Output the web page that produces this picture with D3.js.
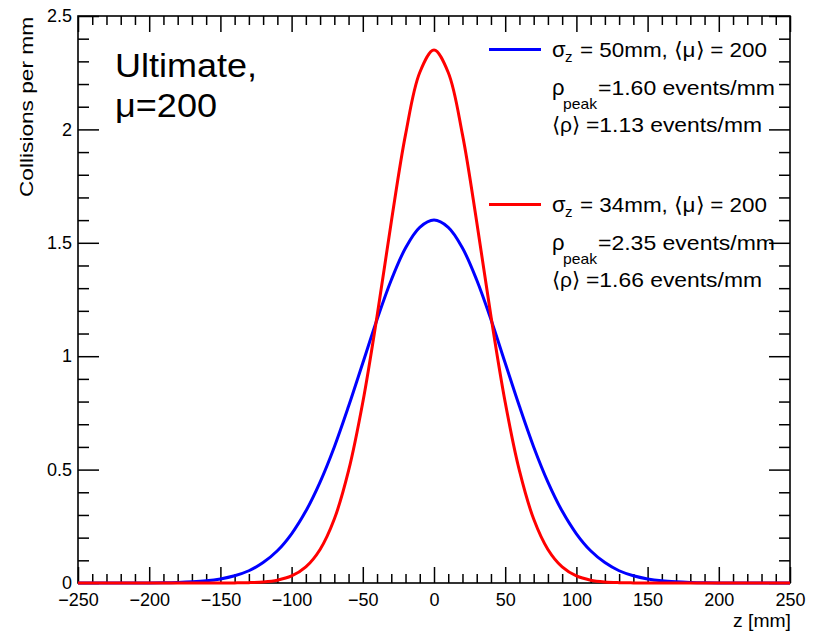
<!DOCTYPE html>
<html>
<head>
<meta charset="utf-8">
<script src="https://cdn.jsdelivr.net/npm/d3@7/dist/d3.min.js"></script>
<style>
  html, body { margin: 0; padding: 0; background: #fff; }
  svg { display: block; font-family: "Liberation Sans", Arial, Helvetica, sans-serif; }
</style>
</head>
<body>
<svg id="chart" width="817" height="634"></svg>
<script>
// ---- data ----
const zValues = [-250,-240,-230,-220,-210,-200,-190,-180,-170,-160,-150,-140,-130,-120,-110,-100,-90,-80,-70,-60,-50,-40,-30,-20,-10,0,
                 10,20,30,40,50,60,70,80,90,100,110,120,130,140,150,160,170,180,190,200,210,220,230,240,250];
const blueValues = [0,0,0,0,0,0.0005,0.001,0.0024,0.005,0.0096,0.018,0.032,0.054,0.090,0.142,0.217,0.317,0.445,0.600,0.779,0.970,1.162,1.336,1.477,1.568,1.600,
                    1.568,1.477,1.336,1.162,0.970,0.779,0.600,0.445,0.317,0.217,0.142,0.090,0.054,0.032,0.018,0.0096,0.005,0.0024,0.001,0.0005,0,0,0,0,0];
const redValues  = [0,0,0,0,0,0,0,0,0,0,0,0.0005,0.0016,0.0046,0.0125,0.031,0.071,0.148,0.282,0.495,0.797,1.176,1.592,1.977,2.251,2.350,
                    2.251,1.977,1.592,1.176,0.797,0.495,0.282,0.148,0.071,0.031,0.0125,0.0046,0.0016,0.0005,0,0,0,0,0,0,0,0,0,0,0];
const xTickLabels = [-250,-200,-150,-100,-50,0,50,100,150,200,250];
const yTickLabels = [0,0.5,1,1.5,2,2.5];
const xTitle = "z [mm]";
const yTitle = "Collisions per mm";

// ---- layout ----
const svg = d3.select("#chart");
const L = 78, R = 790, T = 16, B = 583;
const x = d3.scaleLinear().domain([-250, 250]).range([L, R]);
const y = d3.scaleLinear().domain([0, 2.5]).range([B, T]);

const xMinor = d3.range(-250, 251, 10).filter(v => v % 50 !== 0);
const yMinor = d3.range(0, 2.51, 0.1).map(v => +v.toFixed(2)).filter(v => Math.abs(v * 2 - Math.round(v * 2)) > 1e-6);

const axisStyle = g => {
  g.select(".domain").remove();
  g.selectAll(".tick line").attr("stroke", "#000").attr("stroke-width", 1.5);
  g.selectAll("text").attr("font-size", 18).attr("fill", "#000")
    .attr("font-family", "'Liberation Sans', Arial, sans-serif");
};

// bottom axis
svg.append("g").attr("transform", `translate(0,${B})`)
  .call(d3.axisBottom(x).tickValues(xTickLabels).tickSizeInner(-16).tickSizeOuter(0).tickPadding(10)
    .tickFormat(d3.format("d")))
  .call(axisStyle);
svg.append("g").attr("transform", `translate(0,${B})`)
  .call(d3.axisBottom(x).tickValues(xMinor).tickSizeInner(-9).tickSizeOuter(0).tickFormat(""))
  .call(axisStyle);
// top axis
svg.append("g").attr("transform", `translate(0,${T})`)
  .call(d3.axisTop(x).tickValues(xTickLabels).tickSizeInner(-16).tickSizeOuter(0).tickFormat(""))
  .call(axisStyle);
svg.append("g").attr("transform", `translate(0,${T})`)
  .call(d3.axisTop(x).tickValues(xMinor).tickSizeInner(-9).tickSizeOuter(0).tickFormat(""))
  .call(axisStyle);
// left axis
svg.append("g").attr("transform", `translate(${L},0)`)
  .call(d3.axisLeft(y).tickValues(yTickLabels).tickSizeInner(-21).tickSizeOuter(0).tickPadding(6)
    .tickFormat(d => String(d)))
  .call(axisStyle);
svg.append("g").attr("transform", `translate(${L},0)`)
  .call(d3.axisLeft(y).tickValues(yMinor).tickSizeInner(-11).tickSizeOuter(0).tickFormat(""))
  .call(axisStyle);
// right axis
svg.append("g").attr("transform", `translate(${R},0)`)
  .call(d3.axisRight(y).tickValues(yTickLabels).tickSizeInner(-21).tickSizeOuter(0).tickFormat(""))
  .call(axisStyle);
svg.append("g").attr("transform", `translate(${R},0)`)
  .call(d3.axisRight(y).tickValues(yMinor).tickSizeInner(-11).tickSizeOuter(0).tickFormat(""))
  .call(axisStyle);

// frame
svg.append("rect").attr("x", L).attr("y", T).attr("width", R - L).attr("height", B - T)
  .attr("fill", "none").attr("stroke", "#000").attr("stroke-width", 1.6);

// curves
const line = vals => d3.line()
  .x((d, i) => x(zValues[i]))
  .y(d => y(d))
  .curve(d3.curveCatmullRom)(vals);
svg.append("path").attr("d", line(blueValues)).attr("fill", "none")
  .attr("stroke", "#0000ff").attr("stroke-width", 3);
svg.append("path").attr("d", line(redValues)).attr("fill", "none")
  .attr("stroke", "#ff0000").attr("stroke-width", 3);

// axis titles
svg.append("text").attr("x", R + 1).attr("y", 627).attr("text-anchor", "end")
  .attr("font-size", 18).attr("textLength", 58).attr("lengthAdjust", "spacingAndGlyphs").text(xTitle);
svg.append("text").attr("transform", "translate(33,17) rotate(-90)").attr("text-anchor", "end")
  .attr("font-size", 19).attr("textLength", 180).attr("lengthAdjust", "spacingAndGlyphs").text(yTitle);

// label
svg.append("text").attr("x", 115).attr("y", 77).attr("font-size", 34)
  .attr("textLength", 142).attr("lengthAdjust", "spacingAndGlyphs").text("Ultimate,");
svg.append("text").attr("x", 115).attr("y", 117).attr("font-size", 34)
  .attr("textLength", 102).attr("lengthAdjust", "spacingAndGlyphs").text("μ=200");

// legend
const legendEntries = [
  {color: "#0000ff", sigma: "= 50mm, ⟨μ⟩ = 200", peak: "=1.60 events/mm", mean: "=1.13 events/mm", dy: 0},
  {color: "#ff0000", sigma: "= 34mm, ⟨μ⟩ = 200", peak: "=2.35 events/mm", mean: "=1.66 events/mm", dy: 155}
];
legendEntries.forEach(e => {
  const g = svg.append("g").attr("transform", `translate(0,${e.dy})`);
  g.append("line").attr("x1", 489).attr("x2", 541).attr("y1", 49.5).attr("y2", 49.5)
    .attr("stroke", e.color).attr("stroke-width", 3);
  const t = (xx, yy, fs, s, len) => {
    const el = g.append("text").attr("x", xx).attr("y", yy).attr("font-size", fs).text(s);
    if (len) el.attr("textLength", len).attr("lengthAdjust", "spacingAndGlyphs");
    return el;
  };
  t(552, 57, 22, "σ");
  t(565, 62, 15, "z");
  t(580, 57, 21, e.sigma, 187);
  t(552, 95, 22, "ρ");
  t(563, 109, 15, "peak", 34);
  t(598, 95, 21, e.peak, 177);
  t(552, 132, 21, "⟨ρ⟩", 28);
  t(586, 132, 21, e.mean, 176);
});
</script>
</body>
</html>
